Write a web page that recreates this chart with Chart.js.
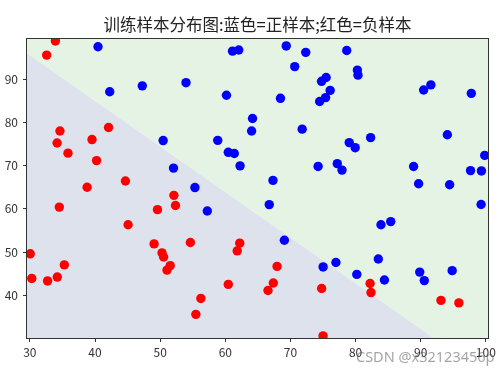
<!DOCTYPE html>
<html>
<head>
<meta charset="utf-8">
<script src="https://cdn.jsdelivr.net/npm/chart.js@4.4.0/dist/chart.umd.min.js"></script>
<style>
    html, body { margin: 0; padding: 0; background: #fff; }
    #wrap { position: relative; width: 502px; height: 374px; }
    #mark {
        position: absolute; left: 356px; top: 346px;
        font: 14.5px "Noto Sans", sans-serif;
        color: rgba(90, 90, 90, 0.55);
        white-space: nowrap;
    }
</style>
</head>
<body>
<div id="wrap">
    <canvas id="chartRef"></canvas>
    <div id="mark">CSDN @x32123456p</div>
</div>
<script>
// positive samples (blue)
const posX = [60.18, 79.03, 61.11, 75.02, 76.10, 84.43, 82.31, 69.36, 53.97, 69.07,
    70.66, 76.98, 89.68, 77.92, 62.27, 80.19, 61.38, 85.40, 52.05, 64.18,
    83.90, 94.44, 77.19, 97.77, 62.07, 91.56, 79.94, 99.27, 90.55, 97.65,
    74.25, 71.80, 75.40, 40.46, 80.28, 66.75, 64.04, 72.35, 60.46, 58.84,
    99.83, 47.26, 50.46, 88.91, 94.83, 67.32, 57.24, 80.37, 68.47, 75.48,
    78.64, 94.09, 90.45, 74.49, 89.85, 83.49, 42.26, 99.32, 55.34, 74.78];
const posY = [86.31, 75.34, 96.51, 46.55, 87.42, 43.53, 76.48, 97.72, 89.21, 52.74,
    92.93, 47.58, 65.80, 68.97, 69.95, 44.82, 72.81, 57.05, 69.43, 80.91,
    56.31, 65.57, 70.46, 86.73, 96.77, 88.70, 74.16, 61.00, 43.39, 68.86,
    69.82, 78.45, 85.76, 97.54, 92.12, 60.99, 78.03, 96.23, 73.09, 75.86,
    72.37, 88.48, 75.81, 69.80, 45.69, 66.59, 59.51, 90.96, 85.59, 90.42,
    96.65, 77.16, 87.51, 84.85, 45.36, 48.38, 87.10, 68.78, 64.93, 89.53];

// negative samples (red)
const negX = [34.62, 30.29, 35.85, 45.08, 95.86, 75.01, 39.54, 67.95, 67.37, 50.53,
    34.21, 93.11, 61.83, 38.79, 52.11, 40.24, 54.64, 33.92, 74.79, 34.18,
    51.55, 82.37, 51.05, 62.22, 34.52, 50.29, 49.59, 32.58, 35.29, 56.25,
    30.06, 44.67, 66.56, 49.07, 32.72, 60.46, 82.23, 42.08, 52.35, 55.48];
const negY = [78.02, 43.89, 72.90, 56.32, 38.23, 30.60, 76.04, 46.68, 42.84, 48.86,
    44.21, 38.80, 50.26, 65.00, 63.13, 71.17, 52.21, 98.87, 41.57, 75.24,
    46.86, 40.62, 45.82, 52.06, 60.40, 49.80, 59.81, 95.60, 47.02, 39.26,
    49.59, 66.45, 41.09, 51.88, 43.31, 42.51, 42.72, 78.84, 60.77, 35.57];

// decision boundary
const boundaryX = [29.56, 92.0];
const boundaryY = [96.0, 30.1];

const xMin = 29.56, xMax = 100.33;
const yMin = 30.1, yMax = 99.37;
const xTicks = [30, 40, 50, 60, 70, 80, 90, 100];
const yTicks = [40, 50, 60, 70, 80, 90];

const toPoints = (xs, ys) => xs.map((x, i) => ({ x: x, y: ys[i] }));

const tickFont = { family: "'Noto Sans CJK SC', 'Noto Sans', sans-serif", size: 12 };

const framePlugin = {
    id: "frame",
    afterDraw(chart) {
        const { ctx, chartArea: a } = chart;
        ctx.save();
        ctx.strokeStyle = "#333";
        ctx.lineWidth = 1;
        ctx.strokeRect(Math.round(a.left) - 0.5, Math.round(a.top) - 0.5,
            Math.round(a.right - a.left) + 1, Math.round(a.bottom - a.top) + 1);
        ctx.restore();
    },
};

const ctx = document.getElementById("chartRef").getContext("2d");
new Chart(ctx, {
    type: "scatter",
    data: {
        datasets: [
            {
                label: "正样本",
                data: toPoints(posX, posY),
                backgroundColor: "#0000ff",
                borderColor: "#0000ff",
                pointRadius: 4.7,
                borderWidth: 0,
                clip: 0,
            },
            {
                label: "负样本",
                data: toPoints(negX, negY),
                backgroundColor: "#ff0000",
                borderColor: "#ff0000",
                pointRadius: 4.7,
                borderWidth: 0,
                clip: 0,
            },
            {
                type: "line",
                data: toPoints(boundaryX, boundaryY),
                borderWidth: 0,
                pointRadius: 0,
                fill: "start",
                backgroundColor: "#dee2ec",
                clip: 0,
            },
            {
                type: "line",
                data: toPoints(boundaryX, boundaryY).concat([{ x: xMax, y: yMin }]),
                borderWidth: 0,
                pointRadius: 0,
                fill: "end",
                backgroundColor: "#e5f3e5",
                clip: 0,
            },
        ],
    },
    options: {
        responsive: true,
        maintainAspectRatio: false,
        devicePixelRatio: 1,
        animation: false,
        layout: { padding: { left: 0, right: 14, top: 0, bottom: 0 } },
        plugins: {
            legend: { display: false },
            tooltip: { enabled: false },
            title: {
                display: true,
                fullSize: false,
                text: "训练样本分布图:蓝色=正样本;红色=负样本",
                color: "#222",
                font: { family: "'Noto Sans CJK SC', sans-serif", size: 16.5, weight: "normal" },
                padding: { top: 15, bottom: 4 },
            },
        },
        scales: {
            x: {
                type: "linear",
                min: xMin,
                max: xMax,
                afterBuildTicks: (s) => { s.ticks = xTicks.map((v) => ({ value: v })); },
                afterFit: (s) => { s.height = 36; },
                grid: { drawOnChartArea: false, drawTicks: true, tickLength: 4, color: "#333" },
                border: { display: false },
                ticks: { font: tickFont, color: "#333", padding: 3, maxRotation: 0, autoSkip: false },
            },
            y: {
                type: "linear",
                min: yMin,
                max: yMax,
                afterBuildTicks: (s) => { s.ticks = yTicks.map((v) => ({ value: v })); },
                afterFit: (s) => { s.width = 27; },
                grid: { drawOnChartArea: false, drawTicks: true, tickLength: 4, color: "#333" },
                border: { display: false },
                ticks: { font: tickFont, color: "#333", padding: 5, autoSkip: false },
            },
        },
    },
    plugins: [framePlugin],
});
</script>
</body>
</html>
